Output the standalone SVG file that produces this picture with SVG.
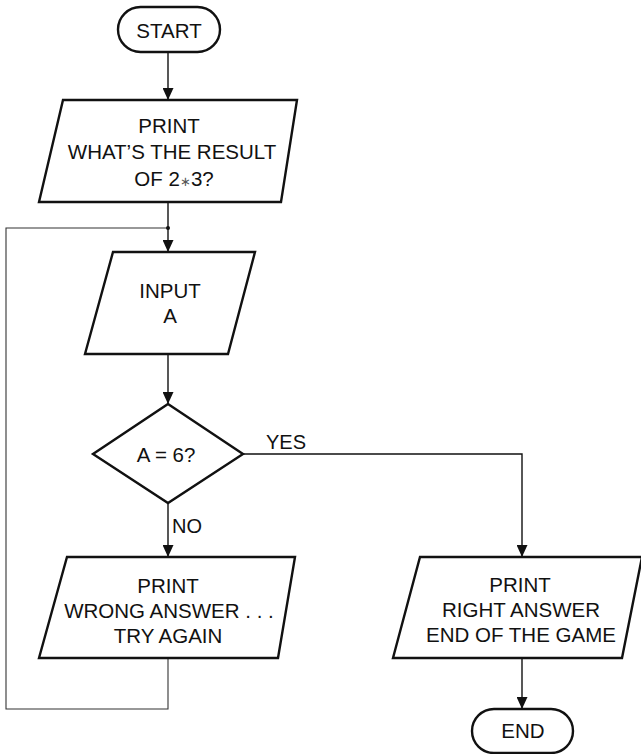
<svg xmlns="http://www.w3.org/2000/svg" width="641" height="754" viewBox="0 0 641 754">
<defs>
<style>
.shape{fill:#fff;stroke:#111;stroke-width:2.4;stroke-linejoin:miter}
.t{font-family:"Liberation Sans",Arial,sans-serif;font-size:20.5px;fill:#111;text-anchor:middle}
.lbl{font-family:"Liberation Sans",Arial,sans-serif;font-size:20px;fill:#111}
.c{fill:none;stroke:#111;stroke-width:1.4}
.loop{fill:none;stroke:#333;stroke-width:1.1}
</style>
<marker id="ah" markerUnits="userSpaceOnUse" markerWidth="12" markerHeight="11" refX="12" refY="5.5" orient="auto">
<path d="M0,0 L12,5.5 L0,11 Z" fill="#111"/>
</marker>
</defs>
<rect width="641" height="754" fill="#fff"/>
<g id="connectors">
<line class="c" x1="168" y1="52" x2="168" y2="100" marker-end="url(#ah)"/>
<line class="c" x1="168" y1="202" x2="168" y2="252" marker-end="url(#ah)"/>
<line class="c" x1="168" y1="354" x2="168" y2="404" marker-end="url(#ah)"/>
<line class="c" x1="168" y1="503" x2="168" y2="557" marker-end="url(#ah)"/>
<polyline class="c" points="243,454 522,454 522,557" marker-end="url(#ah)"/>
<line class="c" x1="522" y1="659" x2="522" y2="709" marker-end="url(#ah)"/>
<polyline class="loop" points="168,659 168,709 6,709 6,228 168,228"/>
<circle cx="168" cy="228" r="2" fill="#111"/>
<text class="lbl" x="266" y="449">YES</text>
<text class="lbl" x="172" y="533">NO</text>
</g>
<g id="start">
<rect class="shape" x="118" y="7" width="102" height="45" rx="22.5"/>
<text class="t" x="169" y="38">START</text>
</g>
<g id="print1">
<polygon class="shape" points="63,100 297,100 281,202 39,202"/>
<text class="t" x="169" y="133">PRINT</text>
<text class="t" x="172" y="159">WHAT’S THE RESULT</text>
<text class="t" x="174" y="186">OF 2<tspan font-size="13" fill="#555">∗</tspan>3?</text>
</g>
<g id="input">
<polygon class="shape" points="113,252 255,252 228,354 85,354"/>
<text class="t" x="170" y="298">INPUT</text>
<text class="t" x="170" y="323">A</text>
</g>
<g id="decision">
<polygon class="shape" points="168,404 243,454 168,503 93,454"/>
<text class="t" x="166" y="461.5">A = 6?</text>
</g>
<g id="wrong">
<polygon class="shape" points="67,557 295,557 278,658 39,658"/>
<text class="t" x="168" y="593">PRINT</text>
<text class="t" x="169" y="618">WRONG ANSWER . . .</text>
<text class="t" x="168" y="643">TRY AGAIN</text>
</g>
<g id="right">
<polygon class="shape" points="420,557 642,557 622,658 393,658"/>
<text class="t" x="520" y="592">PRINT</text>
<text class="t" x="521" y="617">RIGHT ANSWER</text>
<text class="t" x="521" y="642">END OF THE GAME</text>
</g>
<g id="end">
<rect class="shape" x="472" y="709" width="101" height="44" rx="22"/>
<text class="t" x="523" y="738">END</text>
</g>
</svg>
